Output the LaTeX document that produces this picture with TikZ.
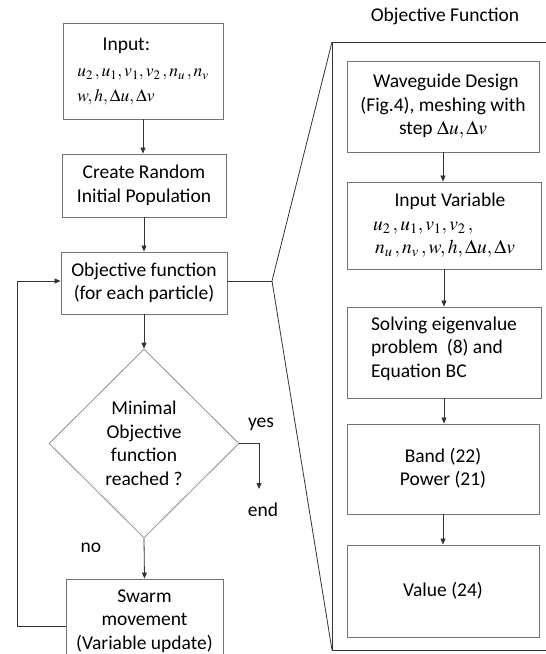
\documentclass[tikz,border=0pt]{standalone}
\usepackage{mathptmx}
\usepackage{fontspec}
\setmainfont{Carlito}
\usetikzlibrary{arrows.meta,shapes.geometric,positioning}

\tikzset{
  box/.style={draw=black!55, line width=0.9pt, rectangle, align=center, inner sep=2pt},
  decbox/.style={draw=black!45, line width=0.8pt, diamond, align=center, inner sep=0pt},
  arr/.style={draw=black!80, line width=0.8pt, -{Triangle[width=5pt,length=6pt]}},
  ln/.style={draw=black!80, line width=0.8pt},
  lbl/.style={inner sep=0pt},
}
\newcommand{\mathsz}{\fontsize{17.5}{25}\selectfont}

\begin{document}
\begin{tikzpicture}[x=1pt,y=1pt,font=\fontsize{19.5}{23.5}\selectfont]
% \clip (0,0) rectangle (546,-654);
\useasboundingbox (0,0) rectangle (546,-654);
\clip (0,0) rectangle (546,-654);

% Left column: PSO loop
\node[box, minimum width=160, minimum height=96, align=left] (inp) at (143,-71)
  {\hspace{1.3em}Input:\\[3pt]
   \mathsz$u_2\,, u_1, v_1, v_2\,, n_u\,, n_v$\\[1pt]
   \mathsz$w, h, \Delta u, \Delta v$};
\node[box, minimum width=164, minimum height=63] (crp) at (144,-185.5)
  {Create Random\\Initial Population};
\node[box, minimum width=166, minimum height=62] (obj) at (144,-283)
  {Objective function\\(for each particle)};
\node[decbox, minimum width=190, minimum height=189] (dec) at (144,-443.5)
  {Minimal\\Objective\\function\\reached ?};
\node[box, minimum width=157, minimum height=84] (swm) at (144.5,-621)
  {Swarm\\movement\\(Variable update)};

% Drawing arrows of the loop
\draw[arr] (inp.south) -- (inp.south |- crp.north);
\draw[arr] (crp.south) -- (obj.north);
\draw[arr] (obj.south) -- (dec.north);
\draw[arr] (dec.south) -- (swm.north);
\draw[arr] ([yshift=-5]swm.west) -- (17,-626) -- (17,-281) -- ([yshift=2]obj.west);

% Exit of the decision
\coordinate (endpt) at (259,-489);
\draw[arr] (dec.east) -| (endpt);
\node[lbl] (yes) at (261,-424) {yes};
\node[lbl] (end) at (263,-510) {end};
\node[lbl] (no) at (91,-548) {no};

% Zoom lines to the objective function frame
\coordinate (zoom) at (272,-281);
\coordinate (ftl) at (332,-42);
\coordinate (fbl) at (332,-650);
\coordinate (ftr) at (560,-42);
\coordinate (fbr) at (560,-650);
\draw[ln] ([yshift=2]obj.east) -- (zoom);
\draw[ln] (ftl) -- (zoom) -- (fbl);
\draw[ln] (ftr) -- (ftl) -- (fbl) -- (fbr);
\node[lbl] (title) at (445,-16) {Objective Function};

% Right column: objective function
\node[box, minimum width=192, minimum height=91] (wgd) at (443,-106.5)
  {\hspace{0.3em}Waveguide Design\\(Fig.4), meshing with\\step $\Delta u, \Delta v$};
\node[box, minimum width=194, minimum height=87, align=left] (ivr) at (444,-225.5)
  {\hspace{1.1em}Input Variable\\
   $u_2\,, u_1, v_1, v_2\,,$\\
   \hspace{0.1em}$n_u\,, n_v\,, w, h, \Delta u, \Delta v$};
\node[box, minimum width=194, minimum height=91, align=left, text depth=1.1em] (sol) at (444,-352.5)
  {Solving eigenvalue\\problem\ \ (8) and\\Equation BC};
\node[box, minimum width=192, minimum height=90, text depth=0.4em] (bnd) at (443,-469)
  {Band (22)\\Power (21)};
\node[box, minimum width=192, minimum height=92] (val) at (443,-591)
  {Value (24)};

\draw[arr] (wgd.south) -- (wgd.south |- ivr.north);
\draw[arr] (ivr.south) -- (ivr.south |- sol.north);
\draw[arr] (sol.south) -- (sol.south |- bnd.north);
\draw[arr] (bnd.south) -- (bnd.south |- val.north);
\end{tikzpicture}
\end{document}
